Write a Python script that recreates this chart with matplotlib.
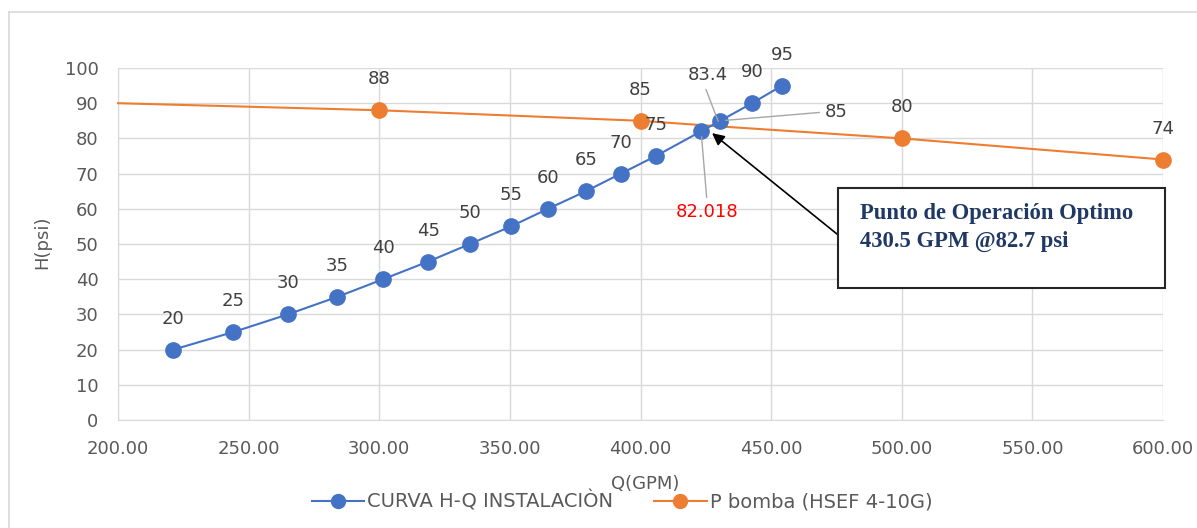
import matplotlib
matplotlib.use("Agg")
import matplotlib.pyplot as plt
from matplotlib.patches import Rectangle
from matplotlib.lines import Line2D

# ---- data ----
q_inst = [221.2, 244.2, 265.0, 284.0, 301.5, 318.7, 334.7, 350.4, 364.6, 379.1,
          392.5, 405.9, 423.2, 430.5, 442.7, 454.2]
h_inst = [20, 25, 30, 35, 40, 45, 50, 55, 60, 65, 70, 75, 82.018, 85, 90, 95]
inst_labels = ["20", "25", "30", "35", "40", "45", "50", "55", "60", "65",
               "70", "75", "82.018", "85", "90", "95"]

q_pump = [200, 300, 400, 430.5, 500, 600]
h_pump = [90, 88, 85, 83.4, 80, 74]
pump_labels = ["", "88", "85", "83.4", "80", "74"]

x_ticks = [200, 250, 300, 350, 400, 450, 500, 550, 600]
y_ticks = [0, 10, 20, 30, 40, 50, 60, 70, 80, 90, 100]

series_names = ["CURVA H-Q INSTALACIÒN", "P bomba (HSEF 4-10G)"]
note_lines = "Punto de Operación Optimo\n430.5 GPM @82.7 psi"

BLUE = "#4472C4"
ORANGE = "#ED7D31"
GRID = "#D9D9D9"
TXT = "#595959"
LBL = "#404040"
FS = 13

plt.rcParams["font.family"] = ["DejaVu Sans"]

W, H = 1197, 528
fig = plt.figure(figsize=(W / 100, H / 100), dpi=100)
ax = fig.add_axes([118 / W, 1 - 420 / H, (1163 - 118) / W, (420 - 68) / H])

ax.set_xlim(200, 600)
ax.set_ylim(0, 100)
ax.set_xticks(x_ticks)
ax.set_yticks(y_ticks)
ax.set_xticklabels([f"{v:.2f}" for v in x_ticks])
ax.grid(True, color=GRID, lw=1)
ax.set_axisbelow(True)
for s in ["top", "right"]:
    ax.spines[s].set_visible(False)
for s in ["left", "bottom"]:
    ax.spines[s].set_color(GRID)
ax.tick_params(length=0, labelsize=FS, labelcolor=TXT)
ax.tick_params(axis="x", pad=14.5)
ax.tick_params(axis="y", pad=14)

# pump curve (marker hidden at 200 and at the operating point)
ax.plot(q_pump, h_pump, color=ORANGE, lw=1.5, marker="o", ms=11,
        markevery=[1, 2, 4, 5], clip_on=False, zorder=3)
# installation curve
ax.plot(q_inst, h_inst, color=BLUE, lw=1.5, marker="o", ms=11,
        clip_on=False, zorder=4)

# regular data labels
for q, h, lab in zip(q_inst, h_inst, inst_labels):
    if lab == "82.018" or (lab == "85" and q > 420):
        continue
    ax.annotate(lab, (q, h), xytext=(0, 31), textcoords="offset pixels",
                ha="center", va="center", fontsize=FS, color=LBL)
for q, h, lab in zip(q_pump, h_pump, pump_labels):
    if lab in ("", "83.4"):
        continue
    ax.annotate(lab, (q, h), xytext=(0, 31), textcoords="offset pixels",
                ha="center", va="center", fontsize=FS, color=LBL)

# labels with leader lines
lead = dict(arrowstyle="-", color="#A6A6A6", lw=1, shrinkA=2, shrinkB=4)
ax.annotate(pump_labels[3], (q_pump[3], h_pump[3]), xytext=(425.8, 98.0),
            ha="center", va="center", fontsize=FS, color=LBL,
            arrowprops=dict(lead, relpos=(0.4, 0.0)), zorder=5)
ax.annotate(inst_labels[12], (q_inst[12], h_inst[12]), xytext=(425.5, 59.1),
            ha="center", va="center", fontsize=FS, color="#FF0000",
            arrowprops=dict(lead, relpos=(0.5, 1.0)), zorder=5)
ax.annotate(inst_labels[13], (q_inst[13], h_inst[13]), xytext=(475.0, 87.5),
            ha="center", va="center", fontsize=FS, color=LBL,
            arrowprops=dict(lead, relpos=(0.0, 0.5)), zorder=5)

# arrow and note box
ax.annotate("", xy=(427.4, 81.5), xytext=(475.6, 52.6),
            arrowprops=dict(arrowstyle="-|>", color="black", lw=1.2,
                            mutation_scale=18, shrinkA=0, shrinkB=0),
            zorder=6, annotation_clip=False)
ax.add_patch(Rectangle((475.6, 37.5), 125.2, 28.4, transform=ax.transData,
                       facecolor="white", edgecolor="#262626", lw=1.5,
                       clip_on=False, zorder=6))
ax.text(484.0, 61.6, note_lines, ha="left", va="top",
        family=["Liberation Serif"], fontweight="bold", fontsize=16.3,
        color="#1F3864", linespacing=1.42, zorder=7)

# axis titles
fig.text(645 / W, 1 - 484 / H, "Q(GPM)", ha="center", va="center",
         fontsize=FS, color=TXT)
fig.text(42 / W, 1 - 242 / H, "H(psi)", ha="center", va="center",
         rotation=90, fontsize=FS, color=TXT)

# legend
handles = [Line2D([], [], color=BLUE, lw=1.5, marker="o", ms=10),
           Line2D([], [], color=ORANGE, lw=1.5, marker="o", ms=10)]
fig.legend(handles, series_names, loc="center", ncol=2, frameon=False,
           bbox_to_anchor=(622 / W, 1 - 501 / H), fontsize=14,
           labelcolor=TXT, handlelength=2.7, handletextpad=0.15,
           columnspacing=2.1)

# outer chart border (top and left visible)
fig.add_artist(Line2D([9 / W, 1.0], [1 - 12 / H, 1 - 12 / H], color=GRID,
                      lw=1.2, transform=fig.transFigure))
fig.add_artist(Line2D([9 / W, 9 / W], [0.0, 1 - 12 / H], color=GRID,
                      lw=1.2, transform=fig.transFigure))

fig.savefig("out.png", dpi=100)
